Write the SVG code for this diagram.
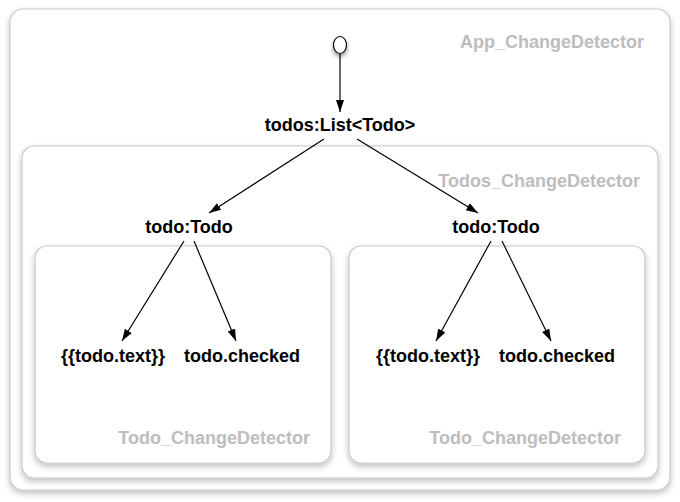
<svg xmlns="http://www.w3.org/2000/svg" width="680" height="502" viewBox="0 0 680 502">
<defs>
<filter id="sh" x="-5%" y="-5%" width="110%" height="115%">
<feGaussianBlur in="SourceAlpha" stdDeviation="3"/>
<feOffset dy="3" result="b"/>
<feComponentTransfer><feFuncA type="linear" slope="0.25"/></feComponentTransfer>
<feMerge><feMergeNode/><feMergeNode in="SourceGraphic"/></feMerge>
</filter>
<filter id="csh" x="-100%" y="-100%" width="300%" height="300%">
<feGaussianBlur in="SourceAlpha" stdDeviation="2"/>
<feOffset dy="3"/>
<feComponentTransfer><feFuncA type="linear" slope="0.4"/></feComponentTransfer>
<feMerge><feMergeNode/><feMergeNode in="SourceGraphic"/></feMerge>
</filter>
<marker id="ah" viewBox="0 0 12 10" refX="12" refY="5" markerWidth="12" markerHeight="10" markerUnits="userSpaceOnUse" orient="auto">
<path d="M0,1 L12,5 L0,9 z" fill="#000"/>
</marker>
</defs>
<style>
.box{fill:#fff;stroke:#c8c8c8;stroke-width:1.2}
.lbl{font-family:"Liberation Sans",Arial,sans-serif;font-weight:bold;font-size:18px;fill:#bdbdbd;text-anchor:end}
.t{font-family:"Liberation Sans",Arial,sans-serif;font-weight:bold;font-size:18px;fill:#000;text-anchor:middle}
.c{stroke:#000;stroke-width:1.2;fill:none;marker-end:url(#ah)}
</style>
<rect width="680" height="502" fill="#fff"/>
<g id="app">
<rect class="box" x="10" y="9" width="660" height="481" rx="13" filter="url(#sh)"/>
<text class="lbl" x="644" y="48">App_ChangeDetector</text>
</g>
<g id="todos-cd">
<rect class="box" x="22" y="146" width="636" height="332" rx="12" filter="url(#sh)"/>
<text class="lbl" x="640" y="187">Todos_ChangeDetector</text>
</g>
<g id="todo-cd-1">
<rect class="box" x="35" y="246" width="296" height="217" rx="12" filter="url(#sh)"/>
<text class="lbl" x="310" y="444">Todo_ChangeDetector</text>
</g>
<g id="todo-cd-2">
<rect class="box" x="349" y="246" width="296" height="217" rx="12" filter="url(#sh)"/>
<text class="lbl" x="621" y="444">Todo_ChangeDetector</text>
</g>
<g id="start">
<ellipse cx="340" cy="45" rx="6.5" ry="8.5" fill="#fff" stroke="#000" stroke-width="1.2" filter="url(#csh)"/>
</g>
<g id="todos"><text class="t" x="340" y="131">todos:List&lt;Todo&gt;</text></g>
<g id="todo1"><text class="t" x="189" y="233">todo:Todo</text></g>
<g id="todo2"><text class="t" x="496" y="233">todo:Todo</text></g>
<g id="text1"><text class="t" x="113" y="362">{{todo.text}}</text></g>
<g id="checked1"><text class="t" x="242" y="362">todo.checked</text></g>
<g id="text2"><text class="t" x="428" y="362">{{todo.text}}</text></g>
<g id="checked2"><text class="t" x="557" y="362">todo.checked</text></g>
<g id="connectors">
<line class="c" x1="340" y1="54" x2="340" y2="112"/>
<line class="c" x1="324" y1="139" x2="209" y2="213"/>
<line class="c" x1="357" y1="139" x2="478" y2="213"/>
<line class="c" x1="184" y1="241" x2="122" y2="341"/>
<line class="c" x1="194" y1="241" x2="236" y2="341"/>
<line class="c" x1="491" y1="241" x2="436" y2="341"/>
<line class="c" x1="502" y1="241" x2="551" y2="341"/>
</g>
</svg>
